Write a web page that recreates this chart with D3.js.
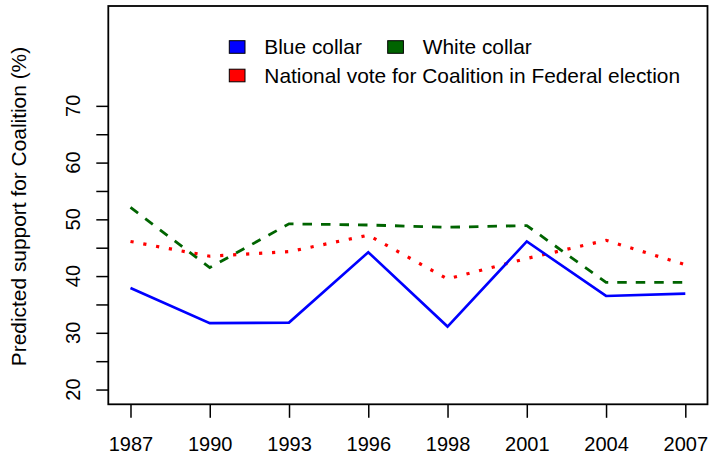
<!DOCTYPE html>
<html>
<head>
<meta charset="utf-8">
<script src="https://cdn.jsdelivr.net/npm/d3@7"></script>
<style>
  html, body { margin: 0; padding: 0; background: #fff; }
  svg { display: block; }
  text { font-family: "Liberation Sans", Arial, Helvetica, sans-serif; fill: #000; }
</style>
</head>
<body>
<svg id="chart" width="713" height="460"></svg>
<script>
const years = ["1987", "1990", "1993", "1996", "1998", "2001", "2004", "2007"];
const blueCollar = [37.9, 31.7, 31.8, 44.2, 31.1, 46.1, 36.5, 36.9];
const whiteCollar = [52.1, 41.5, 49.2, 49.0, 48.6, 48.9, 38.9, 38.9];
const nationalVote = [46.1, 43.5, 44.3, 47.2, 39.5, 43.1, 46.3, 42.0];
const yTicks = [20, 25, 30, 35, 40, 45, 50, 55, 60, 65, 70];
const yLabels = [20, 30, 40, 50, 60, 70];
const legendItems = [
  { label: "Blue collar", color: "#0000FF" },
  { label: "White collar", color: "#006400" },
  { label: "National vote for Coalition in Federal election", color: "#FF0000" }
];

const svg = d3.select("#chart");
const L = 108.3, R = 707.5, T = 6, B = 404.3;
const fs = 20;
const fsBig = 20.9;

const x = d3.scaleLinear().domain([0.72, years.length + 0.28]).range([L, R]);
const y = d3.scaleLinear().domain([17.4, 87.6]).range([B, T]);

// lines
const line = d3.line().x((d, i) => x(i + 1)).y(d => y(d));
const g = svg.append("g");
g.append("path").datum(nationalVote).attr("d", line)
  .attr("fill", "none").attr("stroke", "#FF0000").attr("stroke-width", 3.2)
  .attr("stroke-dasharray", "3.2,9.8");
g.append("path").datum(whiteCollar).attr("d", line)
  .attr("fill", "none").attr("stroke", "#006400").attr("stroke-width", 2.8)
  .attr("stroke-dasharray", "9.5,9");
g.append("path").datum(blueCollar).attr("d", line)
  .attr("fill", "none").attr("stroke", "#0000FF").attr("stroke-width", 2.6)
  .attr("stroke-linejoin", "miter");

// box
svg.append("rect").attr("x", L).attr("y", T).attr("width", R - L).attr("height", B - T)
  .attr("fill", "none").attr("stroke", "#000").attr("stroke-width", 1.8);

// x axis
const xAxis = d3.axisBottom(x)
  .tickValues(d3.range(1, years.length + 1))
  .tickFormat(i => years[i - 1])
  .tickSize(13.5).tickPadding(20);
const gx = svg.append("g").attr("transform", `translate(0,${B})`).call(xAxis);
gx.select(".domain").remove();
gx.selectAll(".tick line").attr("stroke", "#000").attr("stroke-width", 1.5);
gx.selectAll(".tick text").attr("font-size", fs).attr("dy", null).attr("y", 46.5)
  .style("font-family", '"Liberation Sans", Arial, sans-serif');

// y axis
const yAxis = d3.axisLeft(y).tickValues(yTicks).tickFormat(() => "").tickSize(12);
const gy = svg.append("g").attr("transform", `translate(${L},0)`).call(yAxis);
gy.select(".domain").remove();
gy.selectAll(".tick line").attr("stroke", "#000").attr("stroke-width", 1.5);

svg.append("g").selectAll("text").data(yLabels).join("text")
  .attr("transform", d => `translate(80,${y(d)}) rotate(-90)`)
  .attr("text-anchor", "middle")
  .attr("font-size", fs)
  .text(d => d);

// y axis title
svg.append("text")
  .attr("transform", `translate(26,206.5) rotate(-90)`)
  .attr("text-anchor", "middle")
  .attr("font-size", fsBig)
  .text("Predicted support for Coalition (%)");

// legend
const legendPos = [
  { bx: 229.3, tx: 264.3, cy: 47 },
  { bx: 387.7, tx: 422.7, cy: 47 },
  { bx: 229.3, tx: 264.3, cy: 75.5 }
];
const lg = svg.append("g");
legendItems.forEach((d, i) => {
  const p = legendPos[i];
  lg.append("rect").attr("x", p.bx).attr("y", p.cy - 6.3).attr("width", 15.7).attr("height", 12.6)
    .attr("fill", d.color).attr("stroke", "#000").attr("stroke-width", 1);
  lg.append("text").attr("x", p.tx).attr("y", p.cy + 7.4).attr("font-size", fsBig).text(d.label);
});
</script>
</body>
</html>
